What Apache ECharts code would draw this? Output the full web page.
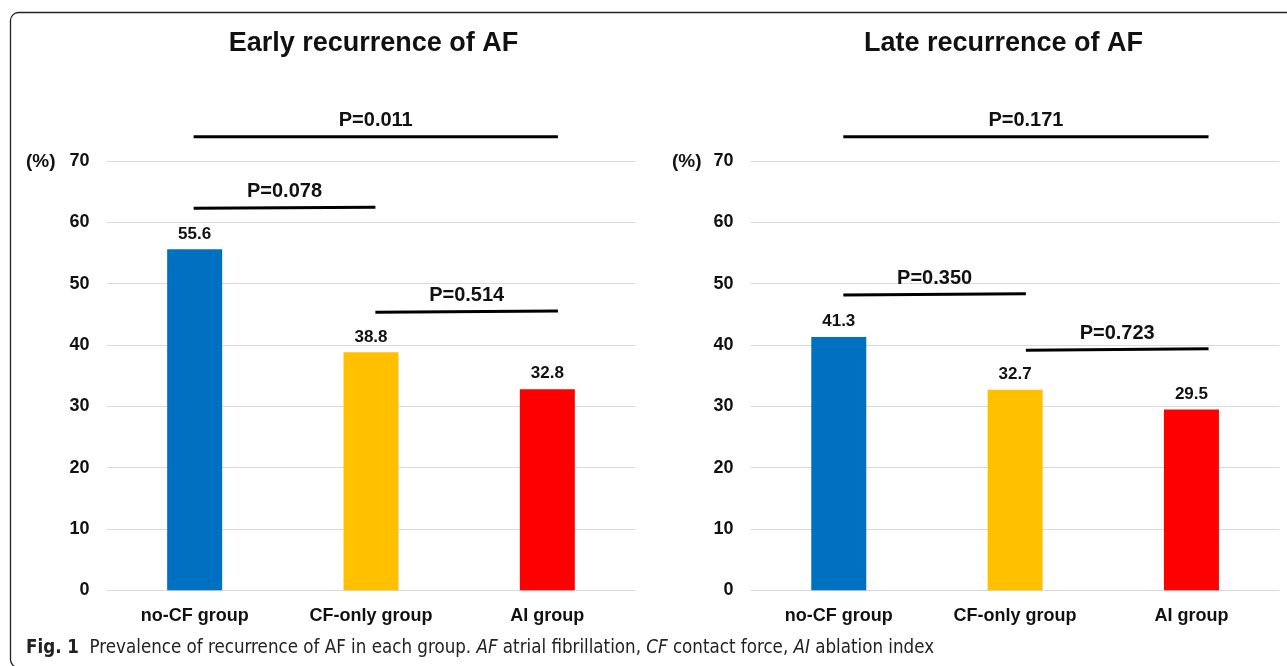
<!DOCTYPE html>
<html>
<head>
<meta charset="utf-8">
<script src="https://cdn.jsdelivr.net/npm/echarts@6/dist/echarts.min.js"></script>
<style>
  html, body { margin: 0; padding: 0; background: #fff; }
  #chart { width: 1287px; height: 666px; }
</style>
</head>
<body>
<div id="chart"></div>
<script>
// ---- data ----
const categories = ['no-CF group', 'CF-only group', 'AI group'];
const barColors = ['#0070C0', '#FFC000', '#FF0000'];
const earlyValues = [55.6, 38.8, 32.8];
const lateValues = [41.3, 32.7, 29.5];
const yTickValues = [0, 10, 20, 30, 40, 50, 60, 70];
const chartTitles = ['Early recurrence of AF', 'Late recurrence of AF'];
const unitLabel = '(%)';

// significance brackets (x in category-index units, y in %)
const earlyPLabels = ['P=0.011', 'P=0.078', 'P=0.514'];
const earlyPStart = [-0.006, -0.006, 1.025];
const earlyPEnd = [2.06, 1.025, 2.06];
const earlyPLevelStart = [73.96, 62.28, 45.33];
const earlyPLevelEnd = [73.96, 62.45, 45.54];

const latePLabels = ['P=0.171', 'P=0.350', 'P=0.723'];
const latePStart = [0.026, 0.026, 1.061];
const latePEnd = [2.097, 1.061, 2.097];
const latePLevelStart = [73.96, 48.15, 39.13];
const latePLevelEnd = [73.96, 48.36, 39.39];

const captionText = '{b|Fig. 1}  Prevalence of recurrence of AF in each group. {i|AF} atrial fibrillation, {i|CF} contact force, {i|AI} ablation index';

// ---- chart ----
const FONT = "'Liberation Sans', Arial, sans-serif";
const CAP_FONT = "'DejaVu Sans Condensed', 'Liberation Sans Narrow', 'Liberation Sans', sans-serif";
const chart = echarts.init(document.getElementById('chart'), null, { renderer: 'canvas' });

const yMin = yTickValues[0];
const yMax = yTickValues[yTickValues.length - 1];
const yInterval = yTickValues[1] - yTickValues[0];

const grids = [
  { left: 106.5, right: 651.5, top: 161, bottom: 75.7 },
  { left: 750.6, right: 7.4, top: 161, bottom: 75.7 }
];

function makeYAxis(gi) {
  return {
    type: 'value', gridIndex: gi, min: yMin, max: yMax, interval: yInterval,
    axisLine: { show: false }, axisTick: { show: false },
    axisLabel: { fontFamily: FONT, fontWeight: 'bold', fontSize: 18, color: '#111', margin: 17 },
    splitLine: { lineStyle: { color: '#d9d9d9', width: 1 } }
  };
}
function makeCatAxis(gi) {
  return {
    type: 'category', gridIndex: gi, data: categories,
    axisLine: { show: false }, axisTick: { show: false },
    axisLabel: { fontFamily: FONT, fontWeight: 'bold', fontSize: 18, color: '#111', margin: 17 }
  };
}
function makeHiddenX(gi) {
  return { type: 'value', gridIndex: gi, min: -0.5, max: 2.5, show: false };
}

function barSeries(values, xi, yi) {
  return {
    type: 'bar', xAxisIndex: xi, yAxisIndex: yi, barWidth: 55,
    data: values.map((v, i) => ({ value: v, itemStyle: { color: barColors[i] } })),
    label: { show: true, position: 'top', distance: 7, fontFamily: FONT, fontWeight: 'bold',
      fontSize: 17, color: '#111' }
  };
}

function bracketSeries(labels, xs, xe, ys, ye, xi, yi) {
  const out = [];
  labels.forEach((lab, k) => {
    out.push({
      type: 'line', xAxisIndex: xi, yAxisIndex: yi, clip: false, silent: true,
      symbol: 'none', animation: false,
      lineStyle: { color: '#000', width: 3, cap: 'butt' },
      data: [[xs[k], ys[k]], [xe[k], ye[k]]]
    });
    out.push({
      type: 'scatter', xAxisIndex: xi, yAxisIndex: yi, clip: false, silent: true,
      symbolSize: 0, itemStyle: { color: '#000', opacity: 1 }, animation: false,
      data: [[(xs[k] + xe[k]) / 2, (ys[k] + ye[k]) / 2]],
      label: { show: true, position: 'top', distance: 6, formatter: lab, opacity: 1,
        fontFamily: FONT, fontWeight: 'bold', fontSize: 20, color: '#111' }
    });
  });
  return out;
}

const option = {
  backgroundColor: '#fff',
  animation: false,
  title: [
    { text: chartTitles[0], left: 373.5, top: 30, textAlign: 'center', padding: 0,
      textStyle: { fontFamily: FONT, fontWeight: 'bold', fontSize: 27, color: '#111' } },
    { text: chartTitles[1], left: 1003.5, top: 30, textAlign: 'center', padding: 0,
      textStyle: { fontFamily: FONT, fontWeight: 'bold', fontSize: 27, color: '#111' } }
  ],
  grid: grids,
  xAxis: [makeCatAxis(0), makeCatAxis(1), makeHiddenX(0), makeHiddenX(1)],
  yAxis: [makeYAxis(0), makeYAxis(1)],
  series: [
    barSeries(earlyValues, 0, 0),
    barSeries(lateValues, 1, 1),
    ...bracketSeries(earlyPLabels, earlyPStart, earlyPEnd, earlyPLevelStart, earlyPLevelEnd, 2, 0),
    ...bracketSeries(latePLabels, latePStart, latePEnd, latePLevelStart, latePLevelEnd, 3, 1)
  ],
  graphic: [
    { type: 'rect', silent: true, z: -1,
      shape: { x: 10.5, y: 12.5, width: 1300, height: 655, r: 8 },
      style: { fill: 'none', stroke: '#222', lineWidth: 1.3 } },
    { type: 'text', left: 26, top: 152,
      style: { text: unitLabel, fill: '#111', font: "bold 19px 'Liberation Sans', Arial, sans-serif" } },
    { type: 'text', left: 672, top: 152,
      style: { text: unitLabel, fill: '#111', font: "bold 19px 'Liberation Sans', Arial, sans-serif" } },
    { type: 'text', left: 26, top: 639,
      style: { text: captionText, fill: '#222',
        font: "18.6px " + CAP_FONT,
        rich: {
          b: { fontWeight: 'bold', fontSize: 18.6, fontFamily: CAP_FONT, fill: '#222' },
          i: { fontStyle: 'italic', fontSize: 18.6, fontFamily: CAP_FONT, fill: '#222' }
        } } }
  ]
};
chart.setOption(option);
</script>
</body>
</html>
